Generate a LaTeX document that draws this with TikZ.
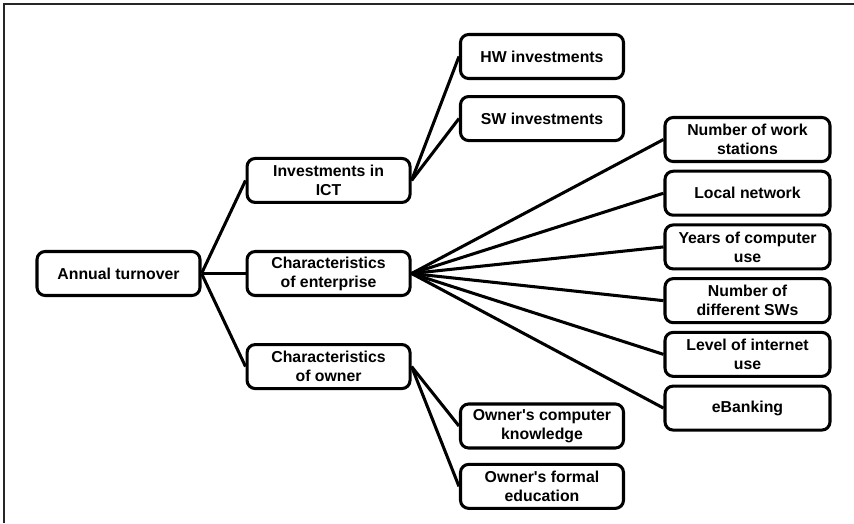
\documentclass[tikz,border=0pt]{standalone}
\usepackage{fontspec}
\setmainfont{Liberation Sans}
\usetikzlibrary{positioning}

\begin{document}
\begin{tikzpicture}[
        x=0.03cm, y=-0.03cm,
        node distance=0.20cm and 1.32cm,
        factbox/.style={rectangle, rounded corners=7pt, draw=black, line width=2.6pt, fill=white, minimum width=4.89cm, minimum height=1.32cm, inner sep=2pt, align=center, font=\fontsize{13.5}{16.2}\selectfont\bfseries},
        link/.style={line width=2.6pt, black},
    ]
        \useasboundingbox (0,0) rectangle (854,523);
        % frame, open on the right and at the bottom
        \draw[line width=1.2pt, black!85] (4,523) -- (4,4) -- (854,4);

        \node[factbox] (turn) at (118.5,273.5) {Annual turnover};

        \node[factbox, right=of turn] (ent) {Characteristics\\of enterprise};
        \node[factbox, above=1.38cm of ent] (ict) {Investments in\\ICT};
        \node[factbox, below=1.38cm of ent] (own) {Characteristics\\of owner};

        \node[factbox] (hw) at (542,56.5) {HW investments};
        \node[factbox, below=0.45cm of hw] (sw) {SW investments};

        \node[factbox, minimum width=4.95cm] (ws) at (747.5,139.5) {Number of work\\stations};
        \node[factbox, minimum width=4.95cm, below=of ws] (lan) {Local network};
        \node[factbox, minimum width=4.95cm, below=of lan] (yrs) {Years of computer\\use};
        \node[factbox, minimum width=4.95cm, below=of yrs] (nsw) {Number of\\different SWs};
        \node[factbox, minimum width=4.95cm, below=of nsw] (net) {Level of internet\\use};
        \node[factbox, minimum width=4.95cm, below=of net] (eb) {eBanking};

        \node[factbox] (know) at (542,426) {Owner\textquotesingle s computer\\knowledge};
        \node[factbox, below=0.40cm of know] (edu) {Owner\textquotesingle s formal\\education};

        \draw[link] (turn.east) -- (ict.west);
        \draw[link] (turn.east) -- (ent.west);
        \draw[link] (turn.east) -- (own.west);
        \draw[link] (ict.east) -- (hw.west);
        \draw[link] (ict.east) -- (sw.west);
        \foreach \n in {ws, lan, yrs, nsw, net, eb}
            \draw[link] (ent.east) -- (\n.west);
        \draw[link] (own.east) -- (know.west);
        \draw[link] (own.east) -- (edu.west);
    \end{tikzpicture}
\end{document}
